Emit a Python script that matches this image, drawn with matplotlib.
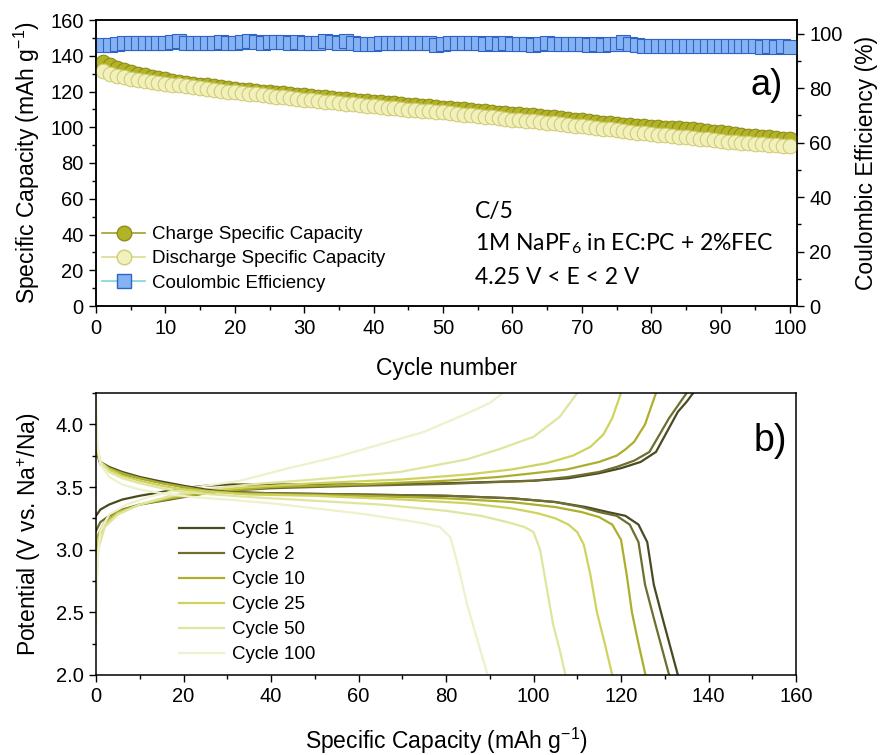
import matplotlib
matplotlib.use("Agg")
import matplotlib.pyplot as plt
from matplotlib import font_manager
from matplotlib.ticker import MultipleLocator, FormatStrFormatter
from matplotlib.lines import Line2D

# ---------------- data: panel a ----------------
cycles = list(range(1, 101))
charge_capacity = [
    136.5, 134.6, 133.2, 132.0, 130.9, 129.9, 129.0, 128.2, 127.5, 126.8,
    126.1, 125.4, 124.9, 124.4, 123.9, 123.4, 122.9, 122.4, 121.9, 121.5,
    121.1, 120.7, 120.4, 120.0, 119.7, 119.3, 118.9, 118.6, 118.2, 117.9,
    117.5, 117.1, 116.8, 116.4, 116.0, 115.6, 115.3, 114.9, 114.6, 114.3,
    114.0, 113.7, 113.3, 113.0, 112.7, 112.4, 112.0, 111.7, 111.4, 111.0,
    110.6, 110.3, 110.0, 109.7, 109.3, 108.9, 108.6, 108.2, 107.8, 107.5,
    107.2, 106.9, 106.6, 106.4, 106.0, 105.5, 105.1, 104.6, 104.2, 103.8,
    103.4, 103.0, 102.6, 102.2, 101.8, 101.4, 101.1, 100.8, 100.5, 100.2,
    100.0, 99.8, 99.6, 99.4, 99.2, 99.0, 98.6, 98.1, 97.6, 97.1,
    96.6, 96.1, 95.7, 95.3, 94.9, 94.6, 94.3, 94.0, 93.7, 93.5]
discharge_capacity = [
    131.5, 130.0, 128.9, 128.0, 127.2, 126.5, 125.8, 125.2, 124.6, 124.1,
    123.8, 123.5, 123.0, 122.5, 122.0, 121.5, 121.0, 120.5, 120.0, 119.6,
    119.2, 118.8, 118.4, 117.9, 117.5, 117.1, 116.7, 116.3, 115.9, 115.5,
    115.1, 114.7, 114.3, 113.9, 113.5, 113.1, 112.8, 112.5, 112.1, 111.8,
    111.4, 111.0, 110.7, 110.3, 109.9, 109.6, 109.3, 109.0, 108.6, 108.3,
    107.9, 107.5, 107.1, 106.7, 106.3, 105.9, 105.5, 105.1, 104.7, 104.3,
    103.9, 103.6, 103.3, 103.0, 102.6, 102.2, 101.8, 101.3, 100.9, 100.5,
    100.1, 99.7, 99.3, 98.9, 98.4, 97.9, 97.5, 97.0, 96.6, 96.2,
    95.8, 95.4, 95.0, 94.6, 94.3, 94.0, 93.6, 93.2, 92.8, 92.4,
    92.0, 91.7, 91.4, 91.1, 90.8, 90.5, 90.2, 89.9, 89.7, 89.5]
coulombic_eff = [
    95.9, 95.9, 96.1, 96.5, 96.6, 96.6, 96.6, 96.7, 96.6, 96.7,
    97.1, 97.2, 96.7, 96.6, 96.7, 96.6, 96.7, 97.0, 96.6, 96.7,
    97.1, 97.2, 96.8, 96.7, 96.9, 97.0, 96.8, 96.7, 97.1, 96.7,
    96.6, 96.7, 97.2, 96.8, 96.6, 97.2, 96.7, 96.1, 96.2, 96.3,
    96.6, 96.5, 96.7, 96.6, 96.6, 96.5, 96.6, 96.5, 96.0, 96.1,
    96.4, 96.5, 96.7, 96.4, 96.5, 96.3, 96.4, 96.3, 96.4, 96.3,
    96.2, 96.3, 96.0, 96.2, 96.5, 96.3, 96.2, 96.3, 96.1, 96.2,
    96.0, 96.1, 96.0, 96.2, 96.3, 96.8, 96.3, 96.0, 95.6, 95.5,
    95.6, 95.5, 95.6, 95.4, 95.5, 95.4, 95.5, 95.4, 95.5, 95.4,
    95.3, 95.4, 95.3, 95.4, 95.3, 95.2, 95.3, 95.2, 95.3, 95.1]

# ---------------- data: panel b (capacity mAh/g, potential V) ----------------
cycle_labels = ["Cycle 1", "Cycle 2", "Cycle 10", "Cycle 25", "Cycle 50", "Cycle 100"]
cycle_colors = ["#4a4a22", "#6e6e30", "#adae2c", "#cfd35e", "#e0e59e", "#eef1cc"]

c1_chg_cap = [0, 1, 3, 6, 10, 15, 20, 25, 30, 45, 60, 80, 100, 108, 115, 120, 124.5, 128, 130.5, 133, 135, 136.5]
c1_chg_v = [3.27, 3.32, 3.36, 3.40, 3.43, 3.46, 3.49, 3.51, 3.52, 3.52, 3.52, 3.53, 3.55, 3.57, 3.61, 3.65, 3.70, 3.78, 3.94, 4.10, 4.18, 4.25]
c2_chg_cap = [0, 1, 3, 6, 10, 17, 25, 30, 40, 60, 80, 100, 108, 115, 119, 123, 126.5, 129, 131, 133, 135]
c2_chg_v = [3.15, 3.22, 3.27, 3.32, 3.36, 3.40, 3.45, 3.47, 3.49, 3.51, 3.525, 3.55, 3.58, 3.62, 3.66, 3.71, 3.78, 3.93, 4.05, 4.15, 4.25]
c10_chg_cap = [0, 0.5, 2, 5, 10, 17, 25, 30, 40, 60, 80, 92, 100, 107.6, 115, 119, 121, 123, 125.5, 128]
c10_chg_v = [2.95, 3.12, 3.22, 3.30, 3.36, 3.41, 3.45, 3.47, 3.50, 3.52, 3.55, 3.58, 3.61, 3.64, 3.70, 3.75, 3.80, 3.86, 4.00, 4.25]
c25_chg_cap = [0, 0.5, 2, 5, 10, 17, 25, 35, 50, 70, 85, 95, 103, 109, 113, 116, 118, 120]
c25_chg_v = [2.80, 3.08, 3.20, 3.29, 3.36, 3.42, 3.47, 3.50, 3.53, 3.56, 3.60, 3.64, 3.69, 3.75, 3.82, 3.92, 4.05, 4.25]
c50_chg_cap = [0, 0.5, 2, 5, 10, 17, 25, 35, 50, 69.5, 84.7, 92, 100, 106, 110]
c50_chg_v = [2.60, 3.00, 3.18, 3.28, 3.36, 3.43, 3.48, 3.52, 3.56, 3.62, 3.72, 3.80, 3.90, 4.06, 4.25]
c100_chg_cap = [0, 0.3, 1, 3, 7, 12, 18, 25, 33, 44, 55, 67, 75, 85, 90, 93]
c100_chg_v = [2.40, 2.90, 3.15, 3.28, 3.36, 3.42, 3.47, 3.51, 3.55, 3.65, 3.74, 3.86, 3.94, 4.09, 4.17, 4.25]

c1_dis_cap = [0, 0.3, 1, 3, 6, 10, 14, 20, 25, 30, 40, 60, 80, 95, 105, 112, 117, 121, 124, 126, 127.5, 129.6, 131.3, 133]
c1_dis_v = [3.88, 3.78, 3.70, 3.66, 3.62, 3.58, 3.55, 3.51, 3.48, 3.46, 3.45, 3.44, 3.43, 3.41, 3.38, 3.34, 3.30, 3.27, 3.20, 3.06, 2.72, 2.44, 2.22, 2.0]
c2_dis_cap = [0, 0.3, 1, 3, 6, 10, 14, 20, 25, 30, 40, 60, 80, 95, 105, 111, 115, 119, 122, 124, 125.5, 127.6, 129.3, 131]
c2_dis_v = [3.85, 3.76, 3.68, 3.64, 3.60, 3.57, 3.54, 3.50, 3.47, 3.46, 3.45, 3.44, 3.43, 3.41, 3.38, 3.34, 3.30, 3.27, 3.20, 3.06, 2.72, 2.44, 2.22, 2.0]
c10_dis_cap = [0, 0.3, 1, 3, 6, 10, 15, 20, 25, 32, 45, 60, 80, 95, 105, 111, 115, 118, 120, 121.3, 122.5, 124, 125.6]
c10_dis_v = [3.90, 3.78, 3.70, 3.65, 3.61, 3.57, 3.53, 3.50, 3.47, 3.45, 3.44, 3.43, 3.41, 3.38, 3.34, 3.30, 3.26, 3.20, 3.08, 2.80, 2.50, 2.25, 2.0]
c25_dis_cap = [0, 0.3, 1, 3, 6, 10, 15, 20, 27, 35, 50, 70, 85, 95, 101, 105, 108, 110, 111.5, 113, 114.5, 116.3, 118]
c25_dis_v = [3.95, 3.80, 3.70, 3.64, 3.59, 3.55, 3.51, 3.48, 3.46, 3.44, 3.43, 3.40, 3.37, 3.33, 3.29, 3.25, 3.20, 3.14, 3.04, 2.80, 2.50, 2.25, 2.0]
c50_dis_cap = [0, 0.3, 1, 3, 6, 10, 15, 20, 27, 35, 50, 65, 80, 88, 94, 98, 100, 101.5, 103, 104.5, 106, 107.3]
c50_dis_v = [4.05, 3.82, 3.70, 3.62, 3.57, 3.53, 3.49, 3.46, 3.44, 3.42, 3.39, 3.36, 3.31, 3.27, 3.22, 3.18, 3.14, 3.00, 2.70, 2.40, 2.20, 2.0]
c100_dis_cap = [0, 0.3, 1, 3, 6, 10, 15, 22, 30, 40, 50, 60, 69.5, 75, 78.6, 81, 83, 84.7, 86.5, 88, 89.5]
c100_dis_v = [4.20, 3.85, 3.68, 3.58, 3.52, 3.48, 3.45, 3.42, 3.40, 3.37, 3.33, 3.29, 3.24, 3.21, 3.18, 3.10, 2.84, 2.58, 2.36, 2.18, 2.0]

charge_curves = [(c1_chg_cap, c1_chg_v), (c2_chg_cap, c2_chg_v), (c10_chg_cap, c10_chg_v),
                 (c25_chg_cap, c25_chg_v), (c50_chg_cap, c50_chg_v), (c100_chg_cap, c100_chg_v)]
discharge_curves = [(c1_dis_cap, c1_dis_v), (c2_dis_cap, c2_dis_v), (c10_dis_cap, c10_dis_v),
                    (c25_dis_cap, c25_dis_v), (c50_dis_cap, c50_dis_v), (c100_dis_cap, c100_dis_v)]

# ---------------- fonts ----------------
def has_font(name):
    try:
        font_manager.findfont(name, fallback_to_default=False)
        return True
    except Exception:
        return False

SANS = "Liberation Sans" if has_font("Liberation Sans") else "DejaVu Sans"
NOTE = "Lato" if has_font("Lato") else SANS
plt.rcParams["font.family"] = [SANS, "DejaVu Sans"]
plt.rcParams["mathtext.default"] = "regular"

TICK_FS = 14.5
LABEL_FS = 16.5
LEG_FS = 13.5

fig = plt.figure(figsize=(8.82, 7.55), dpi=100)
W, H = 882.0, 755.0
ax1 = fig.add_axes([96 / W, 1 - 306 / H, 701 / W, 286 / H])
ax2 = fig.add_axes([96 / W, 1 - 675 / H, 700 / W, 282 / H])

def style_axis(ax):
    for s in ax.spines.values():
        s.set_linewidth(1.1)
    ax.tick_params(which="both", direction="out", width=1.0, labelsize=TICK_FS, top=False, pad=4)
    ax.tick_params(which="major", length=5)
    ax.tick_params(which="minor", length=3)

# ---------------- panel a ----------------
ax1b = ax1.twinx()
ax1.plot(cycles, charge_capacity, "-o", color="#9fa02a", lw=1.0, ms=10.5,
         mfc="#b3b425", mec="#8c8d1a", mew=0.8, zorder=3)
ax1.plot(cycles, discharge_capacity, "-o", color="#dcdc90", lw=1.0, ms=10.5,
         mfc="#f3f1bb", mec="#cfcd7a", mew=0.8, zorder=4)
ax1b.plot(cycles, coulombic_eff, "-s", color="#7fd3de", lw=1.0, ms=9.5,
          mfc="#85b2f2", mec="#2f63c4", mew=0.8)

ax1.set_xlim(0, 101)
ax1.set_ylim(0, 160)
ax1b.set_ylim(0, 105)
ax1.xaxis.set_major_locator(MultipleLocator(10))
ax1.xaxis.set_minor_locator(MultipleLocator(5))
ax1.yaxis.set_major_locator(MultipleLocator(20))
ax1.yaxis.set_minor_locator(MultipleLocator(10))
ax1b.yaxis.set_major_locator(MultipleLocator(20))
ax1b.yaxis.set_minor_locator(MultipleLocator(10))
style_axis(ax1)
style_axis(ax1b)
ax1b.tick_params(which="both", right=True, left=False)
ax1.tick_params(which="both", right=False)

ax1.set_xlabel("Cycle number", fontsize=LABEL_FS, labelpad=14)
ax1.set_ylabel("Specific Capacity (mAh g$^{-1}$)", fontsize=LABEL_FS, labelpad=6)
ax1b.set_ylabel("Coulombic Efficiency (%)", fontsize=LABEL_FS, labelpad=9)

handles_a = [
    Line2D([], [], color="#9fa02a", lw=1.2, marker="o", ms=10.5, mfc="#b3b425", mec="#8c8d1a"),
    Line2D([], [], color="#dcdc90", lw=1.2, marker="o", ms=10.5, mfc="#f3f1bb", mec="#cfcd7a"),
    Line2D([], [], color="#7fd3de", lw=1.2, marker="s", ms=9.5, mfc="#85b2f2", mec="#2f63c4"),
]
ax1.legend(handles_a, ["Charge Specific Capacity", "Discharge Specific Capacity", "Coulombic Efficiency"],
           loc="upper left", bbox_to_anchor=(102 / W, 1 - 226 / H), bbox_transform=fig.transFigure,
           frameon=False, fontsize=LEG_FS, handlelength=2.3, handletextpad=0.35,
           labelspacing=0.38, borderpad=0, borderaxespad=0)

note_kw = dict(transform=ax1.transAxes, fontsize=16.5, family=[NOTE, "DejaVu Sans"], va="center", ha="left")
ax1.text(0.541, 0.332, "C/5", **note_kw)
ax1.text(0.541, 0.217, "1M NaPF$_6$ in EC:PC + 2%FEC", **note_kw)
ax1.text(0.541, 0.101, "4.25 V < E < 2 V", **note_kw)
ax1.text(0.98, 0.77, "a)", transform=ax1.transAxes, fontsize=26, ha="right", va="center")

# ---------------- panel b ----------------
for (cap, v), col, lab in zip(charge_curves, cycle_colors, cycle_labels):
    ax2.plot(cap, v, color=col, lw=1.6, label=lab)
for (cap, v), col in zip(discharge_curves, cycle_colors):
    ax2.plot(cap, v, color=col, lw=1.6)

ax2.set_xlim(0, 160)
ax2.set_ylim(2.0, 4.25)
ax2.xaxis.set_major_locator(MultipleLocator(20))
ax2.xaxis.set_minor_locator(MultipleLocator(10))
ax2.yaxis.set_major_locator(MultipleLocator(0.5))
ax2.yaxis.set_minor_locator(MultipleLocator(0.25))
ax2.yaxis.set_major_formatter(FormatStrFormatter("%.1f"))
style_axis(ax2)
ax2.tick_params(which="both", right=False)
ax2.set_xlabel("Specific Capacity (mAh g$^{-1}$)", fontsize=LABEL_FS, labelpad=14)
ax2.set_ylabel("Potential (V vs. Na$^{+}$/Na)", fontsize=LABEL_FS, labelpad=9)
ax2.legend(loc="upper left", bbox_to_anchor=(179 / W, 1 - 521 / H), bbox_transform=fig.transFigure,
           frameon=False, fontsize=LEG_FS, handlelength=2.4, handletextpad=0.45,
           labelspacing=0.42, borderpad=0, borderaxespad=0)
ax2.text(0.987, 0.83, "b)", transform=ax2.transAxes, fontsize=27, ha="right", va="center")

fig.savefig("out.png", dpi=100)
